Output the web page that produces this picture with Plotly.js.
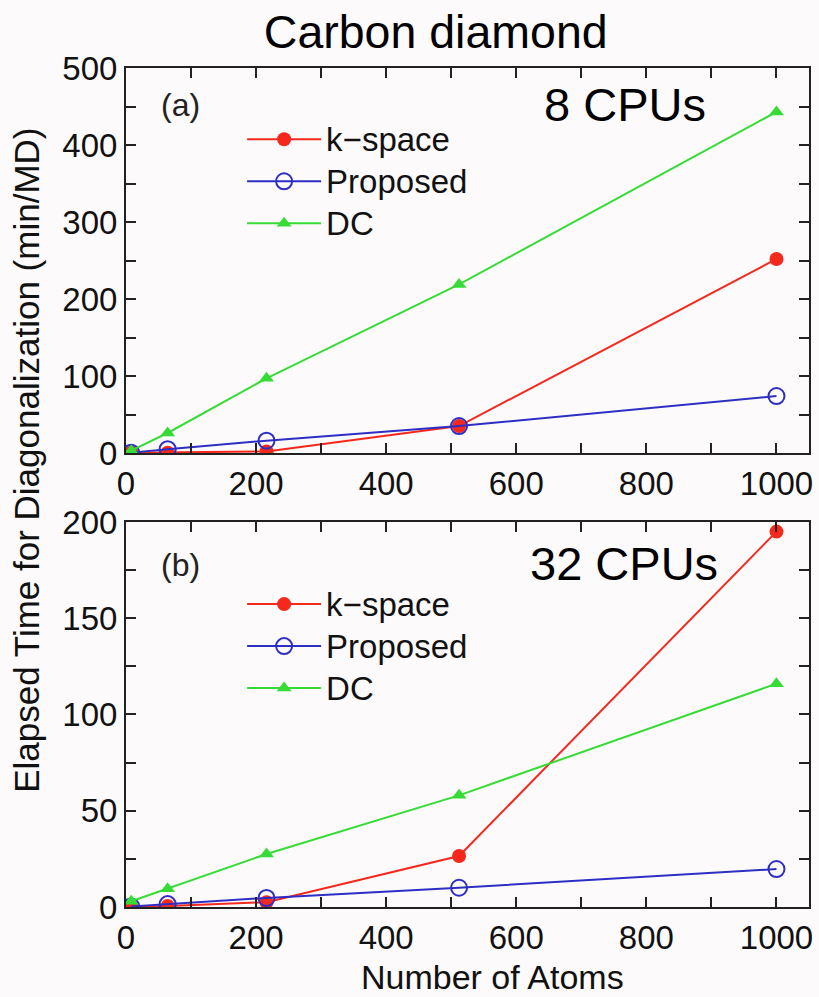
<!DOCTYPE html>
<html>
<head>
<meta charset="utf-8">
<script src="https://cdn.plot.ly/plotly-3.0.1.min.js"></script>
<style>html,body{margin:0;padding:0;background:#fdfafc;}</style>
</head>
<body>
<div id="chart" style="width:819px;height:997px;"></div>
<script>
// Number of atoms
const atoms = [8, 64, 216, 512, 1000];
// (a) 8 CPUs, min/MD
const kspace8 = [0.3, 0.5, 2, 35, 252];
const proposed8 = [0.5, 5, 16, 35, 74];
const dc8 = [3, 26, 97, 219, 443];
// (b) 32 CPUs, min/MD
const kspace32 = [0.1, 0.5, 2.5, 26.5, 195];
const proposed32 = [0.3, 1.5, 4.7, 10, 19.7];
const dc32 = [3, 9.5, 27.5, 58, 116];

const seriesNames = ['k\u2212space', 'Proposed', 'DC'];
const xTickVals = [0, 100, 200, 300, 400, 500, 600, 700, 800, 900, 1000];
const xTickText = ['0', '', '200', '', '400', '', '600', '', '800', '', '1000'];

const RED = '#f5281c', BLUE = '#2e2ec4', GREEN = '#36dc36';
const FONT = 'Liberation Sans, Arial, Helvetica, sans-serif';

function legendName(n) {
  return '<span style="font-size:33px">' + n + '</span>';
}

function mk(x, y, name, color, symbol, xa, ya, leg) {
  const open = symbol === 'circle-open';
  return {
    x: x, y: y, name: legendName(name), type: 'scatter', mode: 'lines+markers',
    xaxis: xa, yaxis: ya, legend: leg, showlegend: true,
    line: {color: color, width: 2},
    marker: {
      symbol: symbol, color: color,
      size: open ? 16 : (symbol === 'triangle-up' ? 13 : 14),
      line: {color: color, width: open ? 2 : 0}
    }
  };
}

const data = [
  mk(atoms, kspace8, seriesNames[0], RED, 'circle', 'x', 'y', 'legend'),
  mk(atoms, proposed8, seriesNames[1], BLUE, 'circle-open', 'x', 'y', 'legend'),
  mk(atoms, dc8, seriesNames[2], GREEN, 'triangle-up', 'x', 'y', 'legend'),
  mk(atoms, kspace32, seriesNames[0], RED, 'circle', 'x2', 'y2', 'legend2'),
  mk(atoms, proposed32, seriesNames[1], BLUE, 'circle-open', 'x2', 'y2', 'legend2'),
  mk(atoms, dc32, seriesNames[2], GREEN, 'triangle-up', 'x2', 'y2', 'legend2')
];

const axisCommon = {
  showline: true, linecolor: '#222', linewidth: 2, mirror: 'ticks',
  ticks: 'inside', ticklen: 10, tickwidth: 2, tickcolor: '#222',
  showgrid: false, zeroline: false,
  tickfont: {family: FONT, size: 33, color: '#111'}
};

const xTop = Object.assign({}, axisCommon, {
  range: [0, 1050], tickmode: 'array', tickvals: xTickVals, ticktext: xTickText,
  anchor: 'y', domain: [0, 1]
});
const xBot = Object.assign({}, axisCommon, {
  range: [0, 1050], tickmode: 'array', tickvals: xTickVals, ticktext: xTickText,
  anchor: 'y2', domain: [0, 1]
});
const yTop = Object.assign({}, axisCommon, {
  range: [0, 500], tickmode: 'array',
  tickvals: [0, 50, 100, 150, 200, 250, 300, 350, 400, 450, 500],
  ticktext: ['0', '', '100', '', '200', '', '300', '', '400', '', '500'],
  domain: [0.5411, 1], anchor: 'x'
});
const yBot = Object.assign({}, axisCommon, {
  range: [0, 200], tickmode: 'array',
  tickvals: [0, 25, 50, 75, 100, 125, 150, 175, 200],
  ticktext: ['0', '', '50', '', '100', '', '150', '', '200'],
  domain: [0, 0.4589], anchor: 'x2'
});

const legendCommon = {
  xref: 'paper', yref: 'paper', xanchor: 'left', yanchor: 'top',
  bgcolor: 'rgba(0,0,0,0)', borderwidth: 0, itemwidth: 74,
  font: {family: FONT, size: 30, color: '#111'}, tracegroupgap: 0
};

const layout = {
  width: 819, height: 997,
  margin: {l: 126, r: 10, t: 68, b: 90},
  paper_bgcolor: '#fdfafc', plot_bgcolor: '#fdfafc',
  showlegend: true,
  title: {
    text: 'Carbon diamond', xref: 'container', yref: 'container',
    x: 0.532, xanchor: 'center', y: 0.968, yanchor: 'middle',
    font: {family: FONT, size: 46.5, color: '#000'}
  },
  xaxis: xTop, yaxis: yTop, xaxis2: xBot, yaxis2: yBot,
  legend: Object.assign({}, legendCommon, {x: 0.17, y: 0.946}),
  legend2: Object.assign({}, legendCommon, {x: 0.17, y: 0.392}),
  annotations: [
    {text: 'Elapsed Time for Diagonalization (min/MD)', xref: 'paper', yref: 'paper',
     x: -0.145, y: 0.533, xanchor: 'center', yanchor: 'middle', textangle: -90, showarrow: false,
     font: {family: FONT, size: 35, color: '#111'}},
    {text: 'Number of Atoms', xref: 'paper', yref: 'paper',
     x: 0.537, y: -0.0834, xanchor: 'center', yanchor: 'middle', showarrow: false,
     font: {family: FONT, size: 34, color: '#111'}},
    {text: '(a)', xref: 'paper', yref: 'paper', x: 0.0805, y: 0.956,
     xanchor: 'center', yanchor: 'middle', showarrow: false,
     font: {family: FONT, size: 32, color: '#222'}},
    {text: '(b)', xref: 'paper', yref: 'paper', x: 0.0805, y: 0.4076,
     xanchor: 'center', yanchor: 'middle', showarrow: false,
     font: {family: FONT, size: 32, color: '#222'}},
    {text: '8 CPUs', xref: 'paper', yref: 'paper', x: 0.7306, y: 0.956,
     xanchor: 'center', yanchor: 'middle', showarrow: false,
     font: {family: FONT, size: 47, color: '#000'}},
    {text: '32 CPUs', xref: 'paper', yref: 'paper', x: 0.729, y: 0.41,
     xanchor: 'center', yanchor: 'middle', showarrow: false,
     font: {family: FONT, size: 47, color: '#000'}}
  ]
};

Plotly.newPlot('chart', data, layout, {displayModeBar: false, staticPlot: true});
</script>
</body>
</html>
